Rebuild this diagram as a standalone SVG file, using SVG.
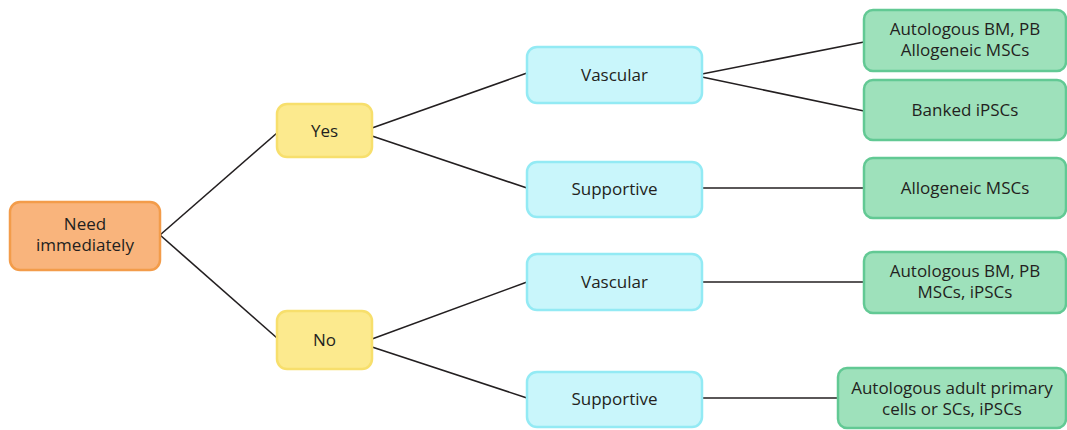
<svg xmlns="http://www.w3.org/2000/svg" width="1067" height="430" viewBox="0 0 1067 430">
<style>
rect{stroke-width:2.5}
.o{fill:#F9B47C;stroke:#F39C4A}
.y{fill:#FCEA8E;stroke:#F7DF6C}
.c{fill:#C9F6FB;stroke:#93EAF4}
.g{fill:#9EE1BB;stroke:#62C994}
text{font-family:"Open Sans","Noto Sans",sans-serif;font-size:17px;fill:#231F20;text-anchor:middle}
.e line{stroke:#231F20;stroke-width:1.6}
</style>
<rect width="1067" height="430" fill="#fff"/>
<g class="e" id="connectors">
<line x1="160" y1="235" x2="277" y2="133"/>
<line x1="160" y1="235" x2="277" y2="338"/>
<line x1="372" y1="128" x2="527" y2="73"/>
<line x1="372" y1="136" x2="527" y2="188"/>
<line x1="372" y1="339" x2="527" y2="282"/>
<line x1="372" y1="347" x2="527" y2="398"/>
<line x1="702" y1="74" x2="864" y2="42"/>
<line x1="702" y1="77" x2="864" y2="111"/>
<line x1="702" y1="188" x2="864" y2="188"/>
<line x1="702" y1="282" x2="864" y2="282"/>
<line x1="702" y1="398" x2="838" y2="398"/>
</g>
<g id="need"><rect class="o" x="10" y="202" width="150" height="68" rx="10"/><text x="85" y="230">Need</text><text x="85" y="251">immediately</text></g>
<g id="yes"><rect class="y" x="277" y="104" width="95" height="53" rx="10"/><text x="324.5" y="137">Yes</text></g>
<g id="no"><rect class="y" x="277" y="311" width="95" height="58" rx="10"/><text x="324.5" y="346">No</text></g>
<g id="vascular1"><rect class="c" x="527" y="47" width="175" height="56" rx="10"/><text x="614.5" y="81">Vascular</text></g>
<g id="supportive1"><rect class="c" x="527" y="162" width="175" height="55" rx="10"/><text x="614.5" y="195">Supportive</text></g>
<g id="vascular2"><rect class="c" x="527" y="254" width="175" height="56" rx="10"/><text x="614.5" y="288">Vascular</text></g>
<g id="supportive2"><rect class="c" x="527" y="372" width="175" height="55" rx="10"/><text x="614.5" y="405">Supportive</text></g>
<g id="g1"><rect class="g" x="864" y="10" width="202" height="61" rx="9"/><text x="965" y="35">Autologous BM, PB</text><text x="965" y="56">Allogeneic MSCs</text></g>
<g id="g2"><rect class="g" x="864" y="80" width="202" height="60" rx="9"/><text x="965" y="116">Banked iPSCs</text></g>
<g id="g3"><rect class="g" x="864" y="158" width="202" height="60" rx="9"/><text x="965" y="194">Allogeneic MSCs</text></g>
<g id="g4"><rect class="g" x="864" y="252" width="202" height="61" rx="9"/><text x="965" y="277">Autologous BM, PB</text><text x="965" y="298">MSCs, iPSCs</text></g>
<g id="g5"><rect class="g" x="838" y="368" width="228" height="60" rx="9"/><text x="952" y="394">Autologous adult primary</text><text x="952" y="415">cells or SCs, iPSCs</text></g>
</svg>
